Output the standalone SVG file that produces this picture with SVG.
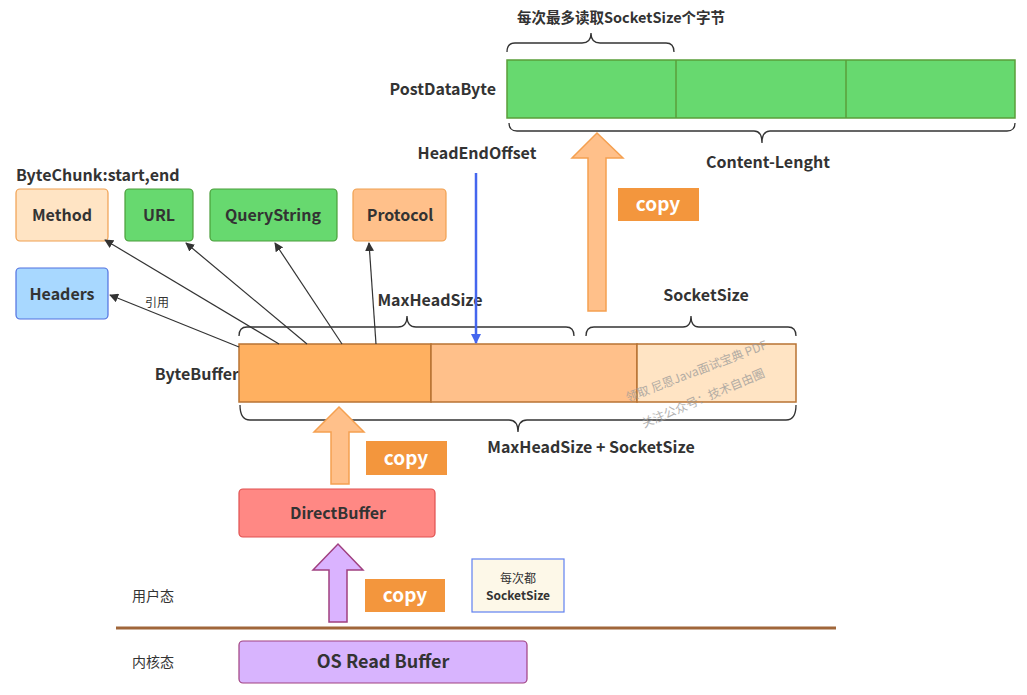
<svg xmlns="http://www.w3.org/2000/svg" width="1027" height="695" viewBox="0 0 1027 695">
<defs>
<style>
text{font-family:"Noto Sans CJK SC","Noto Sans",sans-serif;fill:#333;}
.b{font-weight:bold;font-size:16px;}
.m{text-anchor:middle;}
.copy{fill:#F3963D;}
.copyt{fill:#fff;font-weight:bold;font-size:19px;text-anchor:middle;}
.brace{fill:none;stroke:#333;stroke-width:1.3;}
.conn{stroke:#333;stroke-width:1.2;fill:none;marker-end:url(#ah);}
.wm{fill:#999;font-size:12px;opacity:0.75;}
</style>
<marker id="ah" viewBox="0 0 10 10" refX="9" refY="5" markerWidth="9" markerHeight="9" markerUnits="userSpaceOnUse" orient="auto">
<path d="M0,0 L10,5 L0,10 z" fill="#333"/>
</marker>
<marker id="ahb" viewBox="0 0 10 10" refX="9" refY="5" markerWidth="12" markerHeight="10" markerUnits="userSpaceOnUse" orient="auto">
<path d="M0,0 L10,5 L0,10 z" fill="#4466EE"/>
</marker>
</defs>
<rect width="1027" height="695" fill="#fff"/>

<g id="postdatabyte">
<text class="b" x="496" y="95" text-anchor="end">PostDataByte</text>
<rect x="507" y="60" width="508" height="58" fill="#67D96F" stroke="#5A9E3A" stroke-width="1.5"/>
<line x1="676" y1="60" x2="676" y2="118" stroke="#5A9E3A" stroke-width="1.5"/>
<line x1="846" y1="60" x2="846" y2="118" stroke="#5A9E3A" stroke-width="1.5"/>
<path class="brace" d="M507,52 Q507,43 515,43 L582,43 Q591,43 591,33 Q591,43 600,43 L666,43 Q674,43 674,52"/>
<text x="517" y="23" font-size="14.5" font-weight="bold">每次最多读取SocketSize个字节</text>
<path class="brace" d="M509,123 Q509,131 517,131 L754,131 Q762,131 762,143 Q762,131 770,131 L1007,131 Q1015,131 1015,123"/>
<text class="b m" x="768" y="168">Content-Lenght</text>
</g>

<g id="headendoffset">
<text class="b m" x="477" y="159">HeadEndOffset</text>
</g>

<g id="copy-top">
<path d="M588,311 L588,158 L572,158 L597,133 L623,158 L606,158 L606,311 Z" fill="#FFC08A" stroke="#F5A050" stroke-width="1.5"/>
<rect class="copy" x="618" y="188" width="81" height="33"/>
<text class="copyt" x="658" y="211">copy</text>
</g>

<text class="b" x="16" y="181">ByteChunk:start,end</text>

<g id="method">
<rect x="16" y="189" width="92" height="52" rx="4" fill="#FFE4C4" stroke="#F0A050" stroke-width="1.2"/>
<text class="b m" x="62" y="221">Method</text>
</g>
<g id="url">
<rect x="125" y="189" width="68" height="52" rx="4" fill="#67D96F" stroke="#4A9E3A" stroke-width="1.2"/>
<text class="b m" x="159" y="221">URL</text>
</g>
<g id="querystring">
<rect x="210" y="189" width="127" height="52" rx="4" fill="#67D96F" stroke="#4A9E3A" stroke-width="1.2"/>
<text class="b m" x="273" y="221">QueryString</text>
</g>
<g id="protocol">
<rect x="353" y="189" width="93" height="52" rx="4" fill="#FFC08A" stroke="#F0A050" stroke-width="1.2"/>
<text class="b m" x="400" y="221">Protocol</text>
</g>
<g id="headers">
<rect x="16" y="268" width="92" height="51" rx="4" fill="#A8D8FF" stroke="#5070E0" stroke-width="1.2"/>
<text class="b m" x="62" y="300">Headers</text>
</g>

<g id="bytebuffer">
<text class="b" x="239" y="380" text-anchor="end">ByteBuffer</text>
<rect x="239" y="344" width="192" height="58" fill="#FFB060" stroke="#B87333" stroke-width="1.5"/>
<rect x="431" y="344" width="206" height="58" fill="#FFC08A" stroke="#B87333" stroke-width="1.5"/>
<rect x="637" y="344" width="159" height="58" fill="#FFE4C4" stroke="#B87333" stroke-width="1.5"/>
<path class="brace" d="M239,336 Q239,327 247,327 L398,327 Q407,327 407,316 Q407,327 416,327 L566,327 Q574,327 574,336"/>
<text class="b m" x="430" y="306">MaxHeadSize</text>
<path class="brace" d="M586,336 Q586,327 594,327 L683,327 Q691,327 691,316 Q691,327 699,327 L788,327 Q796,327 796,336"/>
<text class="b m" x="706" y="301">SocketSize</text>
<path class="brace" d="M240,405 Q240,420 250,420 L509,420 Q518,420 518,432 Q518,420 527,420 L786,420 Q796,420 796,405"/>
<text class="b m" x="591" y="453">MaxHeadSize + SocketSize</text>
</g>

<g id="watermark">
<text class="wm" transform="translate(628,402) rotate(-21)">领取 尼恩Java面试宝典 PDF</text>
<text class="wm" transform="translate(644,428) rotate(-23)">关注公众号：技术自由圈</text>
</g>

<g id="copy-mid">
<path d="M331,484 L331,432 L314,432 L339,407 L364,432 L349,432 L349,484 Z" fill="#FFC08A" stroke="#F5A050" stroke-width="1.5"/>
<rect class="copy" x="366" y="441" width="81" height="34"/>
<text class="copyt" x="406" y="465">copy</text>
</g>

<g id="directbuffer">
<rect x="239" y="489" width="196" height="48" rx="4" fill="#FF8884" stroke="#E05050" stroke-width="1.2"/>
<text class="b m" x="338" y="519">DirectBuffer</text>
</g>

<g id="copy-bottom">
<path d="M329,622 L329,570 L313,570 L338,544 L363,570 L347,570 L347,622 Z" fill="#DAB3FF" stroke="#A04080" stroke-width="1.5"/>
<rect class="copy" x="365" y="579" width="80" height="33"/>
<text class="copyt" x="405" y="602">copy</text>
</g>

<g id="note">
<rect x="472" y="559" width="92" height="53" fill="#FDF8E8" stroke="#6080F0" stroke-width="1.2"/>
<text class="m" x="518" y="583" font-size="12">每次都</text>
<text class="m" x="518" y="600" font-size="12" font-weight="bold">SocketSize</text>
</g>

<line x1="116" y1="628" x2="836" y2="628" stroke="#A0663A" stroke-width="3"/>
<text x="132" y="601" font-size="14">用户态</text>
<text x="132" y="667" font-size="14">内核态</text>

<g id="osreadbuffer">
<rect x="239" y="641" width="288" height="42" rx="4" fill="#D8B4FE" stroke="#A04080" stroke-width="1.2"/>
<text class="m" x="383" y="668" font-size="18" font-weight="bold">OS Read Buffer</text>
</g>

<g id="connectors">
<line class="conn" x1="239" y1="347" x2="110" y2="295"/>
<text x="145" y="307" font-size="12">引用</text>
<line class="conn" x1="279" y1="344" x2="105" y2="240"/>
<line class="conn" x1="307" y1="344" x2="186" y2="243"/>
<line class="conn" x1="342" y1="344" x2="275" y2="243"/>
<line class="conn" x1="376" y1="344" x2="369" y2="243"/>
<line x1="476" y1="173" x2="476" y2="343" stroke="#4466EE" stroke-width="2.5" marker-end="url(#ahb)"/>
</g>
</svg>
